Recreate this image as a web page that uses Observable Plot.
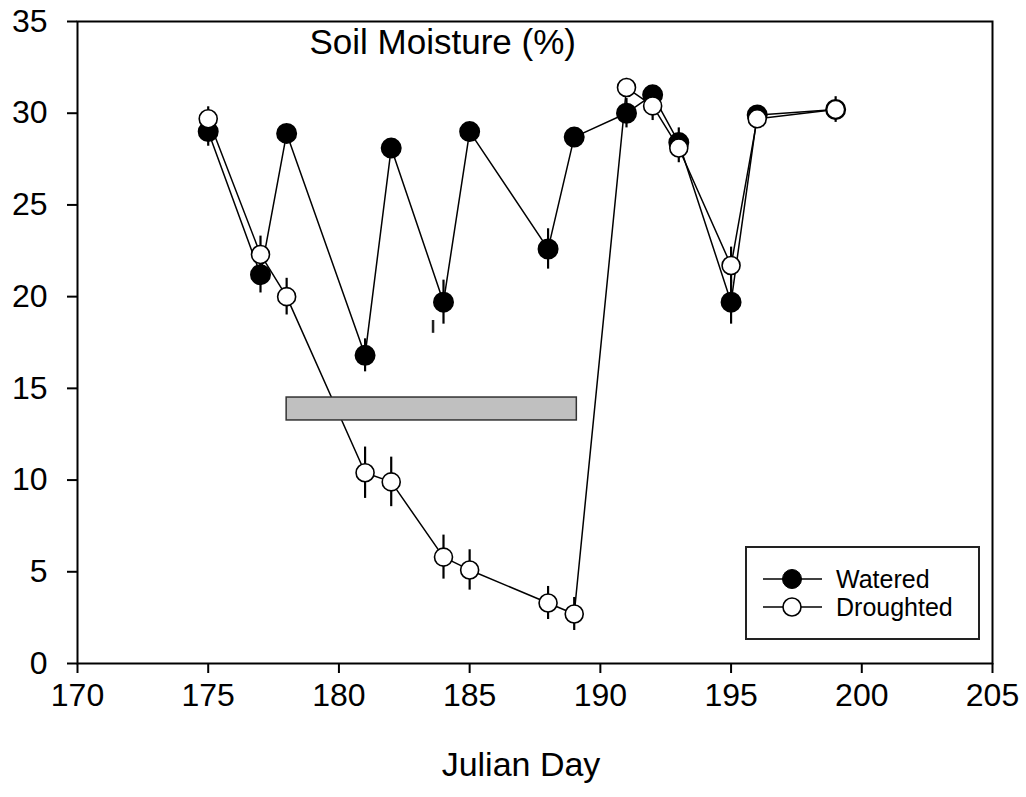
<!DOCTYPE html>
<html>
<head>
<meta charset="utf-8">
<script src="https://cdn.jsdelivr.net/npm/d3@7"></script>
<script src="https://cdn.jsdelivr.net/npm/@observablehq/plot@0.6"></script>
<style>
  html, body { margin: 0; padding: 0; background: #fff; }
  #chart { position: relative; width: 1026px; height: 797px; }
  #chart svg { display: block; }
  #legend { position: absolute; left: 0; top: 0; pointer-events: none; }
</style>
</head>
<body>
<div id="chart"></div>
<script>
// Sampling days (Julian day of year)
const days = [175, 177, 178, 181, 182, 184, 185, 188, 189, 191, 192, 193, 195, 196, 199];

// Soil moisture (%) means and standard errors for each treatment
const watered      = [29.0, 21.2, 28.9, 16.8, 28.1, 19.7, 29.0, 22.6, 28.7, 30.0, 31.0, 28.4, 19.7, 29.9, 30.2];
const wateredErr   = [0.8, 1.0, 0.3, 0.9, 0.4, 1.2, 0.4, 1.1, 0.4, 0.8, 0.5, 0.8, 1.2, 0.4, 0.4];
const droughted    = [29.7, 22.3, 20.0, 10.4, 9.9, 5.8, 5.1, 3.3, 2.7, 31.4, 30.4, 28.1, 21.7, 29.7, 30.2];
const droughtedErr = [0.65, 1.0, 1.0, 1.4, 1.35, 1.2, 1.1, 0.9, 0.9, 0.5, 0.8, 0.8, 1.0, 0.5, 0.7];

// Lone error segment left without a marker
const loneDay = [183.6];
const loneLow = [18.0];
const loneHigh = [18.7];

// Drought treatment period, drawn as a shaded band
const droughtPeriod = [178, 189.1];
const droughtBand = [13.25, 14.5];

// Axis ticks
const xTicks = [170, 175, 180, 185, 190, 195, 200, 205];
const yTicks = [0, 5, 10, 15, 20, 25, 30, 35];

const series = ["Watered", "Droughted"];
const titleText = "Soil Moisture (%)";
const xLabel = "Julian Day";

const font = "Arial, 'Liberation Sans', sans-serif";

const rows = days.map((d, i) => ({
  day: d,
  w: watered[i], we: wateredErr[i],
  dr: droughted[i], de: droughtedErr[i]
}));
const lone = loneDay.map((d, i) => ({day: d, lo: loneLow[i], hi: loneHigh[i]}));
const band = [{x1: droughtPeriod[0], x2: droughtPeriod[1], y1: droughtBand[0], y2: droughtBand[1]}];

const plot = Plot.plot({
  width: 1026,
  height: 797,
  marginLeft: 77,
  marginRight: 34,
  marginTop: 21,
  marginBottom: 134,
  style: {fontFamily: font, fontSize: "32px", color: "#000", background: "#fff", strokeWidth: "2px"},
  x: {domain: [170, 205], ticks: xTicks, tickSize: 10, tickPadding: 10, tickFormat: d => String(d), label: null},
  y: {domain: [0, 35], ticks: yTicks, tickSize: 10, tickPadding: 20, tickFormat: d => String(d), label: null},
  marks: [
    Plot.frame({stroke: "#000", strokeWidth: 2}),
    // connecting lines
    Plot.line(rows, {x: "day", y: "w", stroke: "#000", strokeWidth: 1.5}),
    Plot.line(rows, {x: "day", y: "dr", stroke: "#000", strokeWidth: 1.5}),
    // drought period bar
    Plot.rect(band, {x1: "x1", x2: "x2", y1: "y1", y2: "y2", fill: "#c0c0c0", stroke: "#333", strokeWidth: 1.5}),
    // error bars
    Plot.ruleX(rows, {x: "day", y1: d => d.w - d.we, y2: d => d.w + d.we, stroke: "#000", strokeWidth: 2.2}),
    Plot.ruleX(rows, {x: "day", y1: d => d.dr - d.de, y2: d => d.dr + d.de, stroke: "#000", strokeWidth: 2.2}),
    Plot.ruleX(lone, {x: "day", y1: "lo", y2: "hi", stroke: "#222", strokeWidth: 2.5}),
    // markers
    Plot.dot(rows, {x: "day", y: "w", r: 9.5, fill: "#000", stroke: "#000", strokeWidth: 1}),
    Plot.dot(rows, {x: "day", y: "dr", r: 9, fill: "#fff", stroke: "#000", strokeWidth: 1.6}),
    // panel title and x-axis title
    Plot.text([titleText], {frameAnchor: "top-left", text: d => d, dx: 232, dy: 8, textAnchor: "start", lineAnchor: "top", fontSize: 35, fill: "#000"}),
    Plot.text([xLabel], {frameAnchor: "bottom", text: d => d, dx: -14, dy: 88, lineAnchor: "top", fontSize: 34, fill: "#000"})
  ]
});

const chart = document.getElementById("chart");
chart.appendChild(plot);

// Legend box in the lower-right corner of the panel
const lg = d3.create("svg")
  .attr("id", "legend")
  .attr("width", 1026)
  .attr("height", 797);
lg.append("rect")
  .attr("x", 746).attr("y", 547).attr("width", 233).attr("height", 92)
  .attr("fill", "#fff").attr("stroke", "#222").attr("stroke-width", 2);
const entryY = [579, 607];
series.forEach((name, i) => {
  const g = lg.append("g");
  g.append("line")
    .attr("x1", 763).attr("x2", 822).attr("y1", entryY[i]).attr("y2", entryY[i])
    .attr("stroke", "#000").attr("stroke-width", 1.5);
  g.append("circle")
    .attr("cx", 792).attr("cy", entryY[i]).attr("r", i === 0 ? 9.5 : 9)
    .attr("fill", i === 0 ? "#000" : "#fff")
    .attr("stroke", "#000").attr("stroke-width", i === 0 ? 1 : 1.6);
  g.append("text")
    .attr("x", 836).attr("y", entryY[i] + 9)
    .attr("font-family", font).attr("font-size", 25)
    .attr("fill", "#000")
    .text(name);
});
chart.appendChild(lg.node());
</script>
</body>
</html>
